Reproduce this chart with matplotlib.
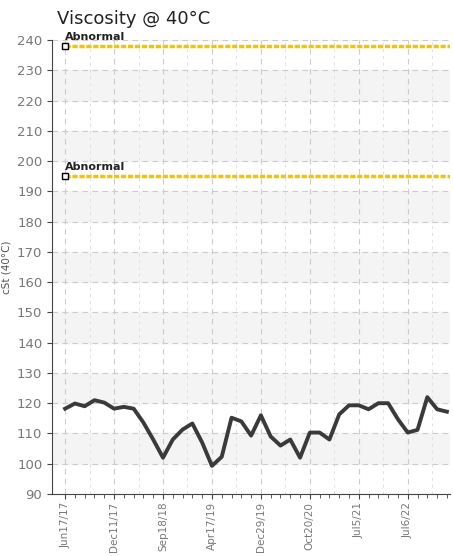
import matplotlib
matplotlib.use("Agg")
import matplotlib.pyplot as plt
import numpy as np

# viscosity readings, one per sample
viscosity = [118.2, 119.9, 119.0, 121.0, 120.2, 118.2, 118.8, 118.2, 113.6, 108.0,
             102.0, 108.0, 111.3, 113.3, 107.0, 99.3, 102.3, 115.2, 114.0, 109.3,
             116.0, 109.0, 106.0, 108.0, 102.0, 110.3, 110.3, 108.0, 116.3, 119.3,
             119.3, 118.0, 120.0, 120.0, 114.7, 110.3, 111.2, 122.0, 118.0, 117.2]
tick_labels = ["Jun17/17", "Dec11/17", "Sep18/18", "Apr17/19",
               "Dec29/19", "Oct20/20", "Jul5/21", "Jul6/22"]
tick_pos = [0, 5, 10, 15, 20, 25, 30, 35]
abnormal_limits = [238, 195]

plt.rcParams["font.family"] = ["Liberation Sans Narrow", "DejaVu Sans"]

fig = plt.figure(figsize=(4.53, 5.56), dpi=100)
ax = fig.add_axes([0.115, 0.1115, 0.878, 0.8165])

x = np.arange(len(viscosity))
ax.set_xlim(-1.33, 39.3)
ax.set_ylim(90, 240)

# alternating bands
for lo in range(90, 240, 20):
    ax.axhspan(lo + 10, lo + 20, color="#f4f4f4", zorder=0)

ax.set_yticks(np.arange(90, 241, 10))
ax.set_xticks(tick_pos)
ax.set_xticks(x, minor=True)
ax.set_xticklabels(tick_labels, rotation=90)
ax.grid(True, which="major", color="#cccccc", linestyle=(0, (5, 4)), linewidth=0.8)
for xv in np.arange(2.5, 40, 5):
    ax.axvline(xv, color="#e0e0e0", linestyle=(0, (3, 4)), linewidth=0.7, zorder=0)

for lim in abnormal_limits:
    ax.plot([0, 39.3], [lim, lim], color="#f5c400", linewidth=2.5,
            linestyle=(0, (1.5, 0.5)), zorder=2)
    ax.plot([0], [lim], marker="s", markersize=4, markerfacecolor="white",
            markeredgecolor="black", markeredgewidth=1, zorder=3)
    ax.text(0, lim + 1.3, "Abnormal", fontsize=8, fontweight="bold",
            family=["DejaVu Sans"], color="#222222", ha="left", va="bottom")

ax.plot(x, viscosity, color="#3a3a3a", linewidth=2.8, zorder=4)

for s in ["top", "right"]:
    ax.spines[s].set_visible(False)
for s in ["left", "bottom"]:
    ax.spines[s].set_color("#444444")
ax.tick_params(axis="both", colors="#444444", labelcolor="#777777")
ax.tick_params(axis="y", labelsize=9.5)
ax.tick_params(axis="x", labelsize=7.5, pad=2)
ax.tick_params(axis="x", which="minor", length=3, colors="#444444")

ax.set_ylabel("cSt (40°C)", fontsize=7.5, color="#555555", family=["DejaVu Sans"])
fig.text(0.125, 0.965, "Viscosity @ 40°C", fontsize=13, family=["DejaVu Sans"],
         color="#222222", ha="left", va="center")

fig.savefig("out.png", dpi=100)
